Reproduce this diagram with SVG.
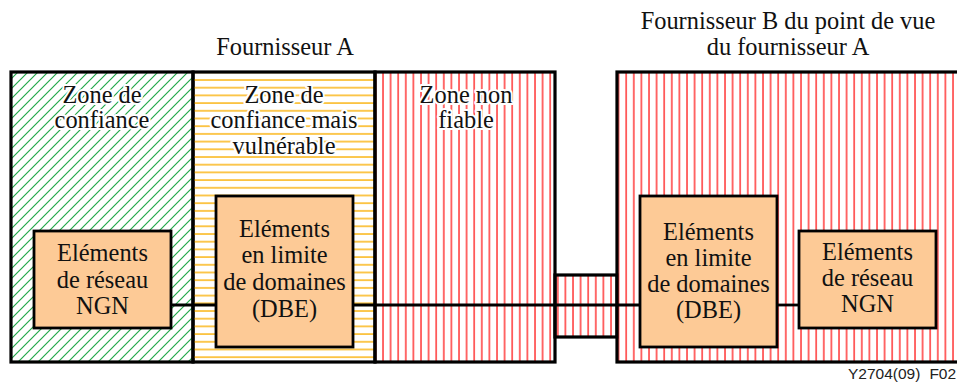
<svg xmlns="http://www.w3.org/2000/svg" width="957" height="382" viewBox="0 0 957 382">
<defs>
<pattern id="green" patternUnits="userSpaceOnUse" width="10" height="10">
<path d="M-1,1 L1,-1 M0,10 L10,0 M9,11 L11,9" stroke="#22a84a" stroke-width="1.2"/>
</pattern>
<pattern id="orange" patternUnits="userSpaceOnUse" width="10" height="7.7" y="2">
<line x1="0" y1="1" x2="10" y2="1" stroke="#fab516" stroke-width="1.5"/>
</pattern>
<pattern id="red" patternUnits="userSpaceOnUse" width="7.6" height="10" x="2">
<line x1="1" y1="0" x2="1" y2="10" stroke="#ff2a2a" stroke-width="1.4"/>
</pattern>
<style>
.zone{stroke:#000;stroke-width:3.2}
.box{fill:#fdca96;stroke:#000;stroke-width:2.8}
.t{font-family:"Liberation Serif","Times New Roman",serif;font-size:24.4px;fill:#111;text-anchor:middle}
.halo{stroke:#fff;stroke-width:4;paint-order:stroke;stroke-linejoin:round}
.conn{stroke:#000;stroke-width:2.8;fill:none}
.cap{font-family:"Liberation Sans",Arial,sans-serif;font-size:15.5px;fill:#222}
</style>
</defs>
<rect width="957" height="382" fill="#fff"/>

<g id="titles">
<text class="t" x="285" y="55">Fournisseur A</text>
<text class="t" x="788" y="29">Fournisseur B du point de vue</text>
<text class="t" x="788" y="55">du fournisseur A</text>
</g>

<g id="zone-confiance">
<rect class="zone" x="11" y="72" width="182" height="290" fill="url(#green)"/>
<text class="t halo" x="102" y="103">Zone de</text>
<text class="t halo" x="102" y="128">confiance</text>
</g>

<g id="zone-vulnerable">
<rect class="zone" x="193" y="72" width="182" height="290" fill="url(#orange)"/>
<text class="t halo" x="284" y="103">Zone de</text>
<text class="t halo" x="284" y="128">confiance mais</text>
<text class="t halo" x="284" y="154">vulnérable</text>
</g>

<g id="zone-non-fiable">
<rect class="zone" x="375" y="72" width="180" height="290" fill="url(#red)"/>
<text class="t halo" x="466" y="103">Zone non</text>
<text class="t halo" x="466" y="128">fiable</text>
</g>

<g id="interconnexion">
<rect class="zone" x="555" y="275" width="62" height="62" fill="url(#red)"/>
</g>

<g id="fournisseur-b">
<rect class="zone" x="617" y="72" width="345" height="290" fill="url(#red)"/>
</g>

<g id="connectors">
<line class="conn" x1="171" y1="305" x2="216" y2="305"/>
<line class="conn" x1="353" y1="305" x2="640" y2="305"/>
<line class="conn" x1="777" y1="305" x2="799" y2="305"/>
</g>

<g id="ngn-a">
<rect class="box" x="34" y="231" width="137" height="97"/>
<text class="t" x="102.5" y="261">Eléments</text>
<text class="t" x="102.5" y="288">de réseau</text>
<text class="t" x="102.5" y="314">NGN</text>
</g>

<g id="dbe-a">
<rect class="box" x="216" y="196" width="137" height="151"/>
<text class="t" x="284.5" y="237">Eléments</text>
<text class="t" x="284.5" y="263">en limite</text>
<text class="t" x="284.5" y="290">de domaines</text>
<text class="t" x="284.5" y="317">(DBE)</text>
</g>

<g id="dbe-b">
<rect class="box" x="640" y="196" width="137" height="151"/>
<text class="t" x="708.5" y="240">Eléments</text>
<text class="t" x="708.5" y="266">en limite</text>
<text class="t" x="708.5" y="292">de domaines</text>
<text class="t" x="708.5" y="318">(DBE)</text>
</g>

<g id="ngn-b">
<rect class="box" x="799" y="231" width="137" height="97"/>
<text class="t" x="867.5" y="260">Eléments</text>
<text class="t" x="867.5" y="286">de réseau</text>
<text class="t" x="867.5" y="312">NGN</text>
</g>

<text class="cap" x="848" y="379">Y2704(09)<tspan dx="9">F02</tspan></text>
</svg>
